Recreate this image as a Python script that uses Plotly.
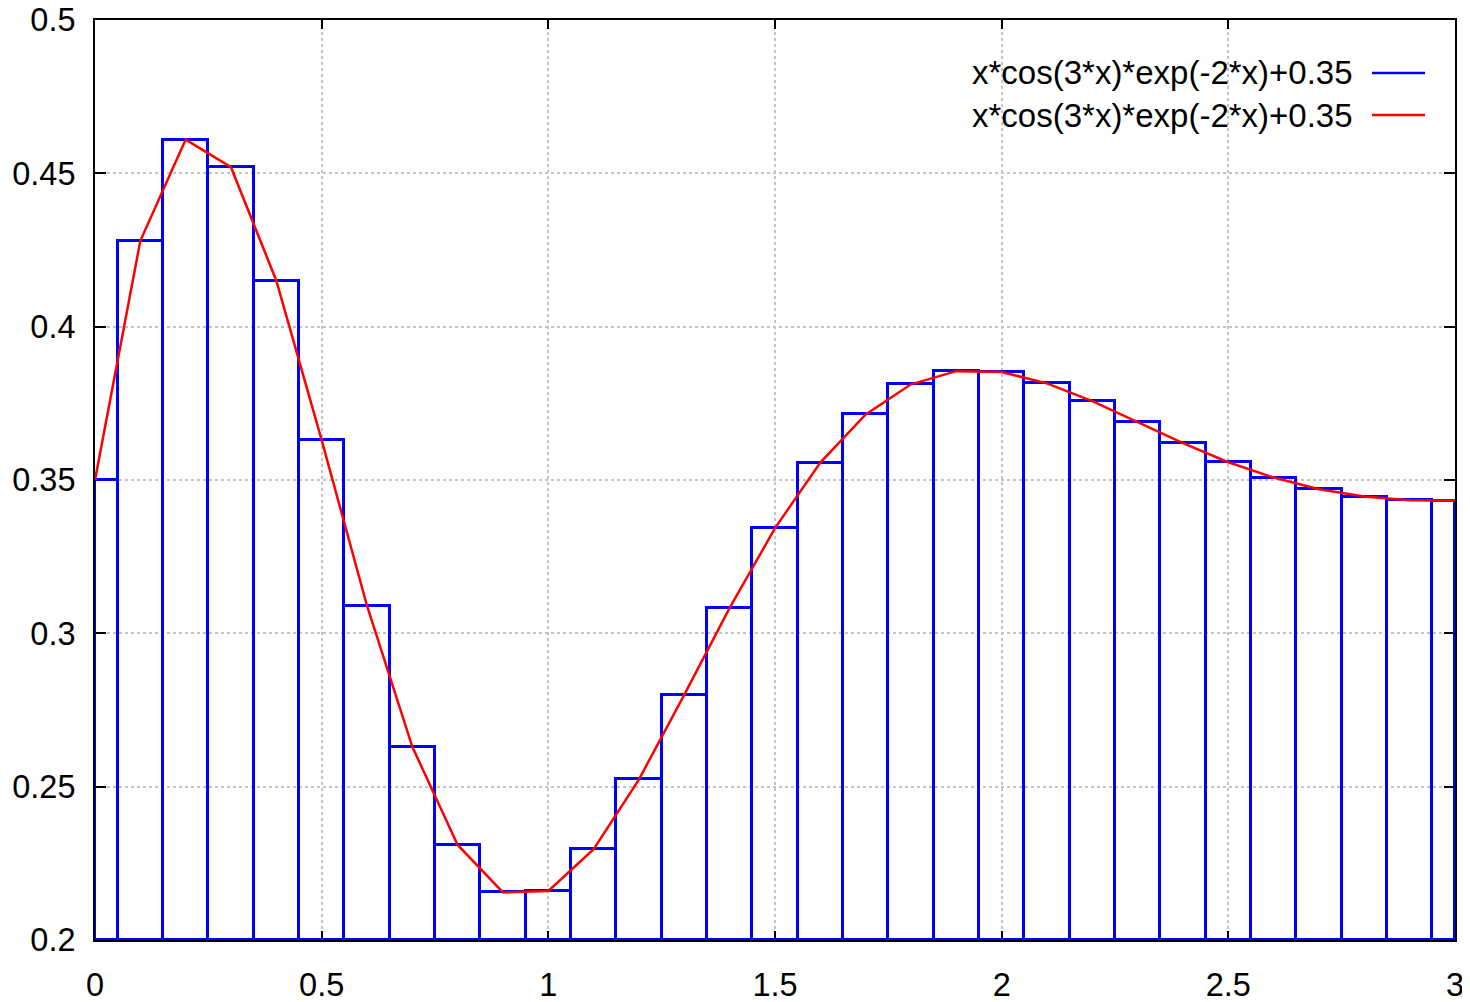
import plotly.graph_objects as go

# Sample points (x) and values
x_vals = [0.0, 0.1, 0.2, 0.3, 0.4, 0.5, 0.6, 0.7, 0.8, 0.9, 1.0,
          1.1, 1.2, 1.3, 1.4, 1.5, 1.6, 1.7, 1.8, 1.9, 2.0,
          2.1, 2.2, 2.3, 2.4, 2.5, 2.6, 2.7, 2.8, 2.9, 3.0]
y_vals = [0.350, 0.428, 0.461, 0.452, 0.415, 0.363, 0.309, 0.263, 0.231, 0.2155, 0.216,
          0.2296, 0.2524, 0.280, 0.3083, 0.3343, 0.3557, 0.3714, 0.3812, 0.3855, 0.3852,
          0.3815, 0.3757, 0.3688, 0.362, 0.3558, 0.3508, 0.347, 0.3446, 0.3434, 0.3432]
series_name = "x*cos(3*x)*exp(-2*x)+0.35"
x_ticks = [0, 0.5, 1, 1.5, 2, 2.5, 3]
y_ticks = [0.2, 0.25, 0.3, 0.35, 0.4, 0.45, 0.5]

X_MIN, X_MAX = 0.0, 3.0
Y_MIN, Y_MAX = 0.2, 0.5
BOX_W = 0.1

# boxes clipped to the x range, like gnuplot does
lefts = [max(x - BOX_W / 2, X_MIN) for x in x_vals]
rights = [min(x + BOX_W / 2, X_MAX) for x in x_vals]
centers = [(l + r) / 2 for l, r in zip(lefts, rights)]
widths = [r - l for l, r in zip(lefts, rights)]
heights = [y - Y_MIN for y in y_vals]

FONT = "Liberation Sans, Arial, sans-serif"
BLUE = "#0000ff"
RED = "#ff0000"
FS = 32.5
FS_LEG = 33

fig = go.Figure()
fig.add_trace(go.Bar(
    x=centers, y=heights, base=Y_MIN, width=widths,
    marker=dict(color="rgba(0,0,0,0)", line=dict(color=BLUE, width=3)),
    name=series_name, showlegend=False,
))
fig.add_trace(go.Scatter(
    x=x_vals, y=y_vals, mode="lines",
    line=dict(color=RED, width=2.5),
    name=series_name, showlegend=False,
))

axis_common = dict(
    showline=True, linecolor="black", linewidth=2, mirror="allticks",
    ticks="inside", tickcolor="black", tickwidth=2,
    showgrid=True, gridcolor="#c4c4c4", griddash="dot", gridwidth=1.5,
    zeroline=False, tickfont=dict(family=FONT, size=FS, color="black"),
    layer="below traces", automargin=False, ticklabeloverflow="allow",
)

# page body has an 8px default margin: figure is sized to fit the window
fig.update_layout(
    width=1462, height=994,
    margin=dict(l=87, r=15, t=12, b=62),
    paper_bgcolor="white", plot_bgcolor="white",
    bargap=0, barmode="overlay",
    showlegend=False,
    xaxis=dict(range=[X_MIN, X_MAX], tickvals=x_ticks,
               ticktext=[f"{v:g}" for v in x_ticks], ticklen=9,
               ticklabelstandoff=15, **axis_common),
    yaxis=dict(range=[Y_MIN, Y_MAX], tickvals=y_ticks,
               ticktext=[f"{v:g}" for v in y_ticks], ticklen=11,
               ticklabelstandoff=11, **axis_common),
)

# legend drawn gnuplot-style: text right-aligned, sample line on the right
legend_rows = [(series_name, BLUE, 0.9424), (series_name, RED, 0.8967)]
for text, col, yp in legend_rows:
    fig.add_annotation(xref="paper", yref="paper", x=0.9265, y=yp,
                       xanchor="right", yanchor="middle", showarrow=False,
                       text=text, font=dict(family=FONT, size=FS_LEG, color="black"))
    fig.add_shape(type="line", xref="paper", yref="paper",
                  x0=0.939, x1=0.978, y0=yp, y1=yp,
                  line=dict(color=col, width=2.5))

fig.write_html("out.html")
